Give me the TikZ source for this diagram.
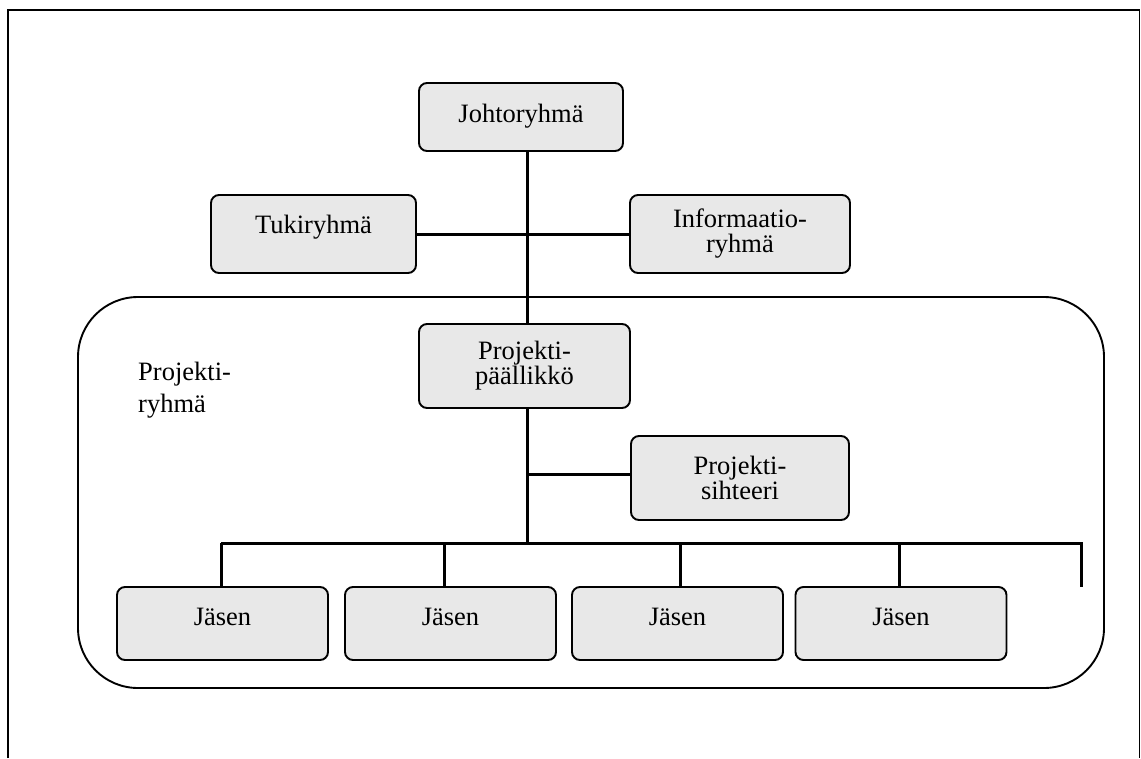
\documentclass[tikz,border=0pt]{standalone}
\usepackage{fontspec}
\setmainfont{Liberation Serif}
\begin{document}
\begin{tikzpicture}[x=1pt,y=-1pt,
  every node/.style={font=\fontsize{26.5}{25}\selectfont},
  orgbox/.style={draw, line width=1.9pt, fill=boxgrey, rounded corners=8pt,
    inner sep=0pt, align=center},
  link/.style={line width=3pt},
  frame/.style={line width=1.9pt}]
\definecolor{boxgrey}{HTML}{E8E8E8}
\useasboundingbox (0,0) rectangle (1141,758);

% page frame, open at the bottom
\draw[frame] (8,758) -- (8,10) -- (1139.5,10) -- (1139.5,758);

% project group area
\draw[frame, rounded corners=60pt] (78,297) rectangle (1104,688);
\node[anchor=north west, inner sep=0pt, align=left] (grp) at (138,362)
  {Projekti-\\[7pt]ryhmä};

% boxes
\node[orgbox, minimum width=204pt, minimum height=68pt, text depth=8pt]
  (johto) at (521,117) {Johtoryhmä};
\node[orgbox, minimum width=205pt, minimum height=78pt, text height=18pt, text depth=20pt]
  (tuki) at (313.5,234) {Tukiryhmä};
\node[orgbox, minimum width=220pt, minimum height=78pt]
  (info) at (740,234) {Informaatio-\\ryhmä};
\node[orgbox, minimum width=211pt, minimum height=84pt]
  (pp) at (524.5,366) {Projekti-\\päällikkö};
\node[orgbox, minimum width=218pt, minimum height=84pt]
  (siht) at (740,478) {Projekti-\\sihteeri};
\foreach \n/\cx in {1/222.5, 2/450.5, 3/677.5, 4/901}
  \node[orgbox, minimum width=211pt, minimum height=73pt, text height=18pt, text depth=15pt]
    (j\n) at (\cx,623.5) {Jäsen};

% connector anchor points
\coordinate (trunk) at (527,0);
\coordinate (sbranch) at (527,474);
\coordinate (s1) at (221,543);
\coordinate (s2) at (444,543);
\coordinate (s3) at (680,543);
\coordinate (s4) at (899,543);
\coordinate (bus) at (527,543);
\coordinate (busend) at (1081,543);
\coordinate (busstub) at (1081,587);

% connectors
\draw[link] (johto.south -| trunk) -- (pp.north -| trunk);
\draw[link] (tuki.east) -- (info.west);
\draw[link] (pp.south -| trunk) -- (bus);
\draw[link] (sbranch) -- (siht.west |- sbranch);
\draw[link] (s1) -- (busend) -- (busstub);
\foreach \n in {1,2,3,4}
  \draw[link] (s\n) -- (s\n |- j\n.north);
\end{tikzpicture}
\end{document}
